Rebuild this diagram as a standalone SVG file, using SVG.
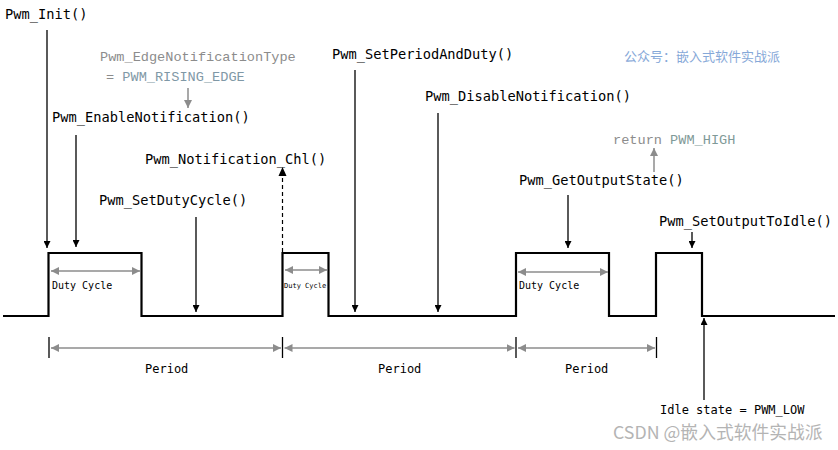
<svg xmlns="http://www.w3.org/2000/svg" width="838" height="450" viewBox="0 0 838 450">
<defs>
<marker id="ab" viewBox="0 0 10 10" refX="10" refY="5" markerWidth="7" markerHeight="7" markerUnits="userSpaceOnUse" orient="auto"><path d="M0,0 L10,5 L0,10 z" fill="#000"/></marker>
<marker id="ag" viewBox="0 0 10 10" refX="10" refY="5" markerWidth="8" markerHeight="8" markerUnits="userSpaceOnUse" orient="auto"><path d="M0,0 L10,5 L0,10 z" fill="#8c8c8c"/></marker>
<marker id="ags" viewBox="0 0 10 10" refX="0" refY="5" markerWidth="8" markerHeight="8" markerUnits="userSpaceOnUse" orient="auto"><path d="M10,0 L0,5 L10,10 z" fill="#8c8c8c"/></marker>
</defs>
<style>
.lbl{font-family:"DejaVu Sans Mono","Liberation Mono",monospace;font-size:13.7px;fill:#000}
.code{font-family:"Liberation Mono","Courier New",monospace;font-size:13.6px;fill:#8c8c8c}
.const{fill:#7f98a6}
.small{font-family:"DejaVu Sans Mono","Liberation Mono",monospace;font-size:10px;fill:#000}
.tiny{font-family:"DejaVu Sans Mono","Liberation Mono",monospace;font-size:7px;fill:#000}
.per{font-family:"DejaVu Sans Mono","Liberation Mono",monospace;font-size:12px;fill:#000}
.call{stroke:#000;stroke-width:1.3;fill:none;marker-end:url(#ab)}
.gray{stroke:#8c8c8c;stroke-width:1.5;fill:none;marker-end:url(#ag)}
.dim{stroke:#8c8c8c;stroke-width:1.5;fill:none;marker-end:url(#ag);marker-start:url(#ags)}
.tick{stroke:#000;stroke-width:1.3}
</style>
<rect width="838" height="450" fill="#fff"/>
<g id="waveform">
<path d="M3,316 H48.5 V253 H141.5 V316 H282.5 V253 H328.5 V316 H516 V253 H609 V316 H656 V253 H702 V316 H835" fill="none" stroke="#000" stroke-width="2.2"/>
</g>
<g id="connectors">
<line class="call" x1="47" y1="30" x2="47" y2="248"/>
<line class="call" x1="76" y1="135" x2="76" y2="247"/>
<line class="gray" x1="188" y1="88" x2="188" y2="108"/>
<line x1="282.5" y1="252" x2="282.5" y2="168" stroke="#000" stroke-width="1.2" stroke-dasharray="4,3"/>
<path d="M278.5,176 L282.5,167 L286.5,176 z" fill="#000"/>
<line class="call" x1="196" y1="217" x2="196" y2="312"/>
<line class="call" x1="355" y1="70" x2="355" y2="312"/>
<line class="call" x1="438" y1="113" x2="438" y2="312"/>
<line class="gray" x1="654" y1="172" x2="654" y2="148"/>
<line class="call" x1="568" y1="195" x2="568" y2="248"/>
<line class="call" x1="692" y1="232" x2="692" y2="248"/>
<line class="call" x1="704" y1="400" x2="704" y2="318"/>
<line class="dim" x1="51" y1="271" x2="140" y2="271"/>
<line class="dim" x1="285" y1="270" x2="327" y2="270"/>
<line class="dim" x1="518" y1="272" x2="608" y2="272"/>
<line class="tick" x1="49" y1="337" x2="49" y2="358"/>
<line class="tick" x1="282.5" y1="337" x2="282.5" y2="358"/>
<line class="tick" x1="516" y1="337" x2="516" y2="358"/>
<line class="tick" x1="656.5" y1="337" x2="656.5" y2="358"/>
<line class="dim" x1="51" y1="348" x2="281" y2="348"/>
<line class="dim" x1="284.5" y1="348" x2="514.5" y2="348"/>
<line class="dim" x1="518" y1="348" x2="655" y2="348"/>
</g>
<g id="init"><text class="lbl" x="5" y="19">Pwm_Init()</text></g>
<g id="edgetype">
<text class="code" x="100" y="61">Pwm_EdgeNotificationType</text>
<text class="code" x="106" y="81">= <tspan class="const">PWM_RISING_EDGE</tspan></text>
</g>
<g id="enable"><text class="lbl" x="52" y="122">Pwm_EnableNotification()</text></g>
<g id="notif"><text class="lbl" x="145" y="164">Pwm_Notification_Chl()</text></g>
<g id="setduty"><text class="lbl" x="99" y="205">Pwm_SetDutyCycle()</text></g>
<g id="setperiod"><text class="lbl" x="332" y="59">Pwm_SetPeriodAndDuty()</text></g>
<g id="disable"><text class="lbl" x="425" y="101">Pwm_DisableNotification()</text></g>
<g id="watermark1"><text x="624" y="61" font-family="'Noto Sans CJK SC',sans-serif" font-size="13" fill="#86a8d8">公众号：嵌入式软件实战派</text></g>
<g id="rethigh"><text class="code" x="613" y="144">return <tspan fill="#7f9a98">PWM_HIGH</tspan></text></g>
<g id="getstate"><text class="lbl" x="519" y="185">Pwm_GetOutputState()</text></g>
<g id="setidle"><text class="lbl" x="659" y="226">Pwm_SetOutputToIdle()</text></g>
<g id="duty1"><text class="small" x="52" y="289">Duty Cycle</text></g>
<g id="duty2"><text class="tiny" x="284" y="288">Duty Cycle</text></g>
<g id="duty3"><text class="small" x="519" y="289">Duty Cycle</text></g>
<g id="period1"><text class="per" x="145" y="373">Period</text></g>
<g id="period2"><text class="per" x="378" y="373">Period</text></g>
<g id="period3"><text class="per" x="565" y="373">Period</text></g>
<g id="idle"><text class="per" x="660" y="414">Idle state = PWM_LOW</text></g>
<g id="watermark2"><text x="613" y="439" font-family="'Noto Sans CJK SC',sans-serif" font-size="17.8" fill="#b4b4b4">CSDN @嵌入式软件实战派</text></g>
</svg>
